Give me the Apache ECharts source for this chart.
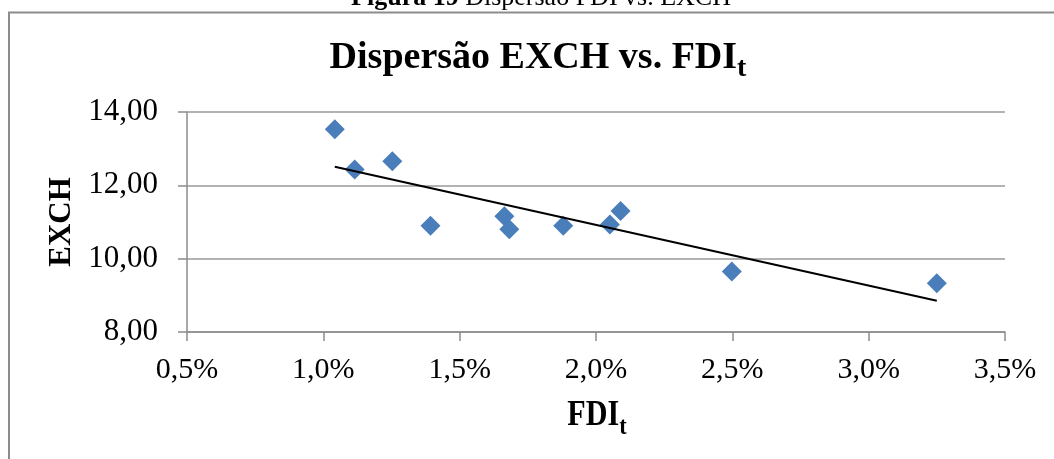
<!DOCTYPE html>
<html>
<head>
<meta charset="utf-8">
<script src="https://cdn.jsdelivr.net/npm/echarts@6/dist/echarts.min.js"></script>
<style>
  html, body { margin: 0; padding: 0; background: #fff; }
  #chart { width: 1054px; height: 459px; }
</style>
</head>
<body>
<div id="chart"></div>
<script>
// FDI (% of GDP) and exchange rate observations
const fdi  = [1.042, 1.115, 1.253, 1.393, 1.664, 1.682, 1.880, 2.051, 2.090, 2.498, 3.250];
const exch = [13.53, 12.43, 12.66, 10.90, 11.16, 10.80, 10.90, 10.93, 11.30, 9.65, 9.33];

// Axis ranges and ticks
const xTicks = [0.5, 1.0, 1.5, 2.0, 2.5, 3.0, 3.5];
const yTicks = [8, 10, 12, 14];

const SERIF = "'Liberation Serif', 'Times New Roman', serif";

// Ordinary least-squares line through the observations
function linearFit(xs, ys) {
  const n = xs.length;
  const mx = xs.reduce((a, b) => a + b, 0) / n;
  const my = ys.reduce((a, b) => a + b, 0) / n;
  let sxy = 0, sxx = 0;
  for (let i = 0; i < n; i++) {
    sxy += (xs[i] - mx) * (ys[i] - my);
    sxx += (xs[i] - mx) * (xs[i] - mx);
  }
  const slope = sxy / sxx;
  return { slope, intercept: my - slope * mx };
}
const fit = linearFit(fdi, exch);
const xMin = Math.min(...fdi), xMax = Math.max(...fdi);
const trend = [[xMin, fit.intercept + fit.slope * xMin], [xMax, fit.intercept + fit.slope * xMax]];

const points = fdi.map((x, i) => [x, exch[i]]);
const comma = (v, d) => v.toFixed(d).replace('.', ',');

// Text width helper, used to place subscripts right after their base text
const measureCtx = document.createElement('canvas').getContext('2d');
function textWidth(str, size, weight) {
  measureCtx.font = (weight || 'normal') + ' ' + size + 'px ' + SERIF;
  return measureCtx.measureText(str).width;
}

// Text with a subscript: base text + smaller, lowered suffix, centred on cx
function subscripted(base, sub, cx, cy, size, subSize, drop, scaleX) {
  const sx = scaleX || 1;
  const wb = textWidth(base, size, 'bold') * sx;
  const ws = textWidth(sub, subSize, 'bold') * sx;
  const left = cx - (wb + ws) / 2;
  return [
    {
      type: 'text', silent: true, x: left, y: cy, scaleX: sx,
      style: { text: base, align: 'left', verticalAlign: 'middle',
               fontFamily: SERIF, fontSize: size, fontWeight: 'bold', fill: '#000' }
    },
    {
      type: 'text', silent: true, x: left + wb, y: cy + drop, scaleX: sx,
      style: { text: sub, align: 'left', verticalAlign: 'middle',
               fontFamily: SERIF, fontSize: subSize, fontWeight: 'bold', fill: '#000' }
    }
  ];
}

const chart = echarts.init(document.getElementById('chart'), null, { renderer: 'canvas' });
chart.setOption({
  backgroundColor: '#ffffff',
  animation: false,
  grid: { left: 187, right: 49, top: 112, bottom: 127, containLabel: false },
  graphic: [
    {
      type: 'rect', silent: true, z: -1,
      shape: { x: 9, y: 12.5, width: 1100, height: 500 },
      style: { fill: 'none', stroke: '#8c8c8c', lineWidth: 2 }
    },
    {
      type: 'text', silent: true,
      x: 541, y: 11,
      style: {
        text: '{b|Figura 19} Dispersão FDI vs. EXCH',
        align: 'center', verticalAlign: 'bottom',
        fontFamily: SERIF, fontSize: 26, fill: '#000',
        rich: { b: { fontFamily: SERIF, fontSize: 26, fontWeight: 'bold', fill: '#000' } }
      }
    },
    // chart title
    ...subscripted('Dispersão EXCH vs. FDI', 't', 538, 58, 38, 28, 11, 1),
    // x axis title
    ...subscripted('FDI', 't', 597, 416, 35, 26, 11, 0.86)
  ],
  xAxis: {
    type: 'value',
    min: xTicks[0], max: xTicks[xTicks.length - 1], interval: 0.5,
    axisLine: { show: true, lineStyle: { color: '#8c8c8c', width: 1.5 } },
    axisTick: { show: true, length: 9, lineStyle: { color: '#8c8c8c', width: 1.5 } },
    splitLine: { show: false },
    axisLabel: {
      margin: 23, fontFamily: SERIF, fontSize: 30, color: '#000',
      formatter: v => comma(v, 1) + '%'
    }
  },
  yAxis: {
    type: 'value',
    min: yTicks[0], max: yTicks[yTicks.length - 1], interval: 2,
    name: 'EXCH',
    nameLocation: 'middle', nameGap: 110,
    nameTextStyle: { fontFamily: SERIF, fontSize: 31, fontWeight: 'bold', color: '#000' },
    axisLine: { show: true, lineStyle: { color: '#8c8c8c', width: 1.5 } },
    axisTick: { show: true, length: 9, lineStyle: { color: '#8c8c8c', width: 1.5 } },
    splitLine: { show: true, lineStyle: { color: '#9a9a9a', width: 1.5 } },
    axisLabel: {
      margin: 29, fontFamily: SERIF, fontSize: 31, color: '#000',
      formatter: v => comma(v, 2)
    }
  },
  series: [
    {
      name: 'EXCH',
      type: 'scatter',
      data: points,
      symbol: 'diamond',
      symbolSize: 20,
      itemStyle: { color: '#4A7EBB', opacity: 1 },
      z: 3
    },
    {
      name: 'Tendência',
      type: 'line',
      data: trend,
      showSymbol: false,
      symbol: 'none',
      lineStyle: { color: '#000', width: 2 },
      z: 4
    }
  ]
});
</script>
</body>
</html>
